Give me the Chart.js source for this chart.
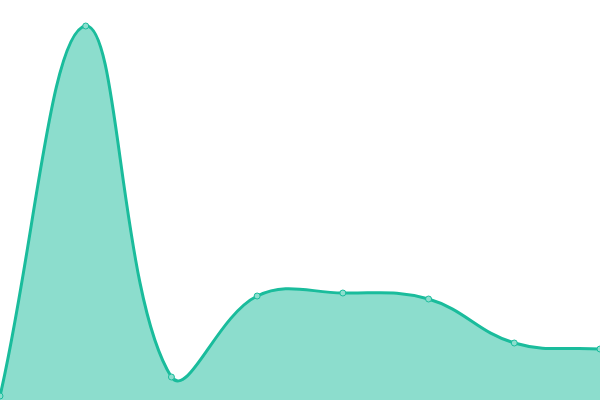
<!DOCTYPE html>
<html>
<head>
<meta charset="utf-8">
<script src="https://cdn.jsdelivr.net/npm/chart.js@4"></script>
<style>
html,body{margin:0;padding:0;background:#fff;}
#wrap{width:600px;height:400px;}
</style>
</head>
<body>
<div id="wrap"><canvas id="c" width="600" height="400"></canvas></div>
<script>
const labels = ["A","B","C","D","E","F","G","H"];
const values = [1, 93.5, 5.75, 26, 26.75, 25.25, 14.25, 12.75];

new Chart(document.getElementById('c'), {
  type: 'line',
  data: {
    labels: labels,
    datasets: [{
      data: values,
      borderColor: '#1abc9c',
      backgroundColor: 'rgba(26,188,156,0.5)',
      pointBackgroundColor: 'rgba(141,222,206,1)',
      pointBorderColor: '#1abc9c',
      pointRadius: 3,
      pointBorderWidth: 1,
      borderWidth: 3,
      tension: 0.4,
      fill: 'start'
    }]
  },
  options: {
    responsive: false,
    animation: false,
    layout: { padding: 0, autoPadding: false },
    plugins: { legend: { display: false }, tooltip: { enabled: false } },
    scales: {
      x: { display: false },
      y: { display: false, min: 0, max: 100 }
    }
  }
});
</script>
</body>
</html>
